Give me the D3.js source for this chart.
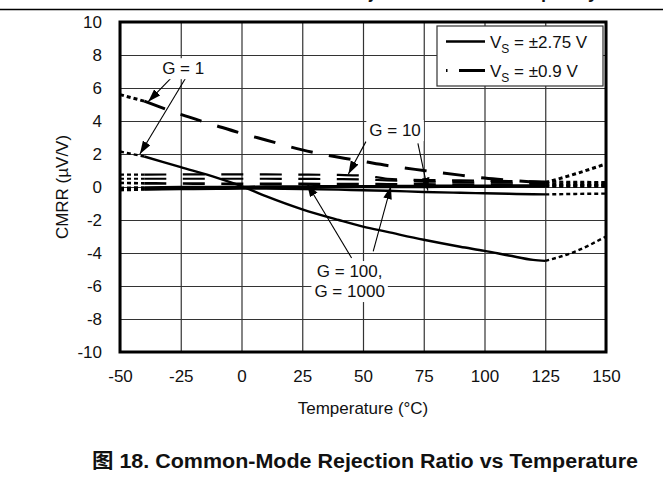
<!DOCTYPE html>
<html lang="en">
<head>
<meta charset="utf-8">
<script src="https://d3js.org/d3.v7.min.js"></script>
<style>
    body { margin: 0; background: #fff; }
    text { font-family: "Liberation Sans", Arial, sans-serif; fill: #111; }
    .grid line { stroke: #333; stroke-width: 1.2; }
    .grid path { display: none; }
    .ticks path { display: none; }
    .ticks line { display: none; }
</style>
</head>
<body>
<svg width="663" height="493"></svg>
<script>

// measured temperatures (°C) for the main curves
var temps = [-40, -25, -10, 0, 10, 25, 40, 50, 60, 75, 90, 100, 110, 120, 125];

// VS = ±2.75 V (solid)
var g1Wide    = [1.85, 1.2, 0.55, 0.05, -0.55, -1.35, -2.0, -2.4, -2.72, -3.2, -3.62, -3.87, -4.15, -4.42, -4.48];
var g10Wide   = [-0.15, -0.13, -0.11, -0.1, -0.1, -0.12, -0.16, -0.2, -0.23, -0.3, -0.35, -0.38, -0.41, -0.44, -0.45];
var g100Wide  = [-0.12, -0.1, -0.07, -0.05, -0.03, -0.02, -0.01, 0, 0, 0, 0.01, 0.01, 0.02, 0.02, 0.02];
var g1000Wide = [-0.02, 0, 0.01, 0.02, 0.03, 0.04, 0.05, 0.05, 0.06, 0.07, 0.08, 0.08, 0.09, 0.1, 0.1];

// VS = ±0.9 V (dashed)
var g1Narrow    = [5.2, 4.4, 3.7, 3.25, 2.85, 2.25, 1.8, 1.55, 1.3, 1.0, 0.72, 0.54, 0.41, 0.3, 0.26];
var g10Narrow   = [0.75, 0.76, 0.76, 0.76, 0.76, 0.75, 0.73, 0.7, 0.5, 0.42, 0.4, 0.38, 0.36, 0.34, 0.33];
var g100Narrow  = [0.5, 0.5, 0.5, 0.5, 0.5, 0.49, 0.48, 0.46, 0.4, 0.33, 0.3, 0.28, 0.26, 0.24, 0.23];
var g1000Narrow = [0.22, 0.21, 0.2, 0.2, 0.19, 0.19, 0.18, 0.18, 0.17, 0.16, 0.15, 0.15, 0.14, 0.13, 0.13];

// extrapolated ends, drawn short-dashed
var leftTemps  = [-50, -40];
var rightTemps = [125, 137.5, 150];
var g1WideLeft = [2.15, 1.85],      g1WideRight = [-4.48, -3.9, -3.0];
var g10WideLeft = [-0.2, -0.15],    g10WideRight = [-0.45, -0.42, -0.4];
var g100WideLeft = [-0.12, -0.12],  g100WideRight = [0.02, 0.02, 0.02];
var g1000WideLeft = [-0.05, -0.02], g1000WideRight = [0.1, 0.1, 0.1];
var g1NarrowLeft = [5.6, 5.2],      g1NarrowRight = [0.26, 0.8, 1.4];
var g10NarrowLeft = [0.75, 0.75],   g10NarrowRight = [0.33, 0.31, 0.3];
var g100NarrowLeft = [0.5, 0.5],    g100NarrowRight = [0.23, 0.21, 0.2];
var g1000NarrowLeft = [0.25, 0.22], g1000NarrowRight = [0.13, 0.12, 0.12];

var xTicks = [-50, -25, 0, 25, 50, 75, 100, 125, 150];
var yTicks = [-10, -8, -6, -4, -2, 0, 2, 4, 6, 8, 10];

var legendLabels = ["±2.75 V", "±0.9 V"];

var series = [
    {vs: 0, w: 2.4, main: g1Wide, left: g1WideLeft, right: g1WideRight},
    {vs: 0, w: 2.4, main: g10Wide, left: g10WideLeft, right: g10WideRight},
    {vs: 0, w: 2.4, main: g100Wide, left: g100WideLeft, right: g100WideRight},
    {vs: 0, w: 2.4, main: g1000Wide, left: g1000WideLeft, right: g1000WideRight},
    {vs: 1, w: 2.6, main: g1000Narrow, left: g1000NarrowLeft, right: g1000NarrowRight},
    {vs: 1, w: 2.2, main: g100Narrow, left: g100NarrowLeft, right: g100NarrowRight},
    {vs: 1, w: 2.2, main: g10Narrow, left: g10NarrowLeft, right: g10NarrowRight},
    {vs: 1, w: 3, main: g1Narrow, left: g1NarrowLeft, right: g1NarrowRight}
];

// annotation labels and arrows, in data units
var notes = [
    {lines: ["G = 1"], at: [-24, 7.2],
     arrows: [[[-28.3, 6.7], [-38.4, 5.17]], [[-22.6, 6.7], [-41.8, 2.0]]]},
    {lines: ["G = 10"], at: [63.2, 3.45],
     arrows: [[[51.2, 2.75], [44, 0.79]], [[72.6, 2.65], [76.7, -0.22]]]},
    {lines: ["G = 100,", "G = 1000"], at: [44.5, -5.7],
     arrows: [[[45.3, -4.3], [27, 0.2]], [[54.2, -3.9], [61.5, 0.05]]]}
];

var svg = d3.select("svg"),
    margin = {top: 22, right: 57, bottom: 141, left: 120},
    width = 663 - margin.left - margin.right,
    height = 493 - margin.top - margin.bottom;

var x = d3.scaleLinear().domain([-50, 150]).range([margin.left, margin.left + width]);
var y = d3.scaleLinear().domain([-10, 10]).range([margin.top + height, margin.top]);

// cut-off title of the previous figure and page rule
svg.append("text")
    .attr("x", 598).attr("y", -2.5)
    .attr("text-anchor", "end")
    .style("font-weight", "bold").style("font-size", "18px")
    .text("Common-Mode Rejection Ratio vs Frequency");
svg.append("line")
    .attr("x1", 0).attr("x2", 663).attr("y1", 9.5).attr("y2", 9.5)
    .attr("stroke", "#000").attr("stroke-width", 1.5);

// grid
svg.append("g").attr("class", "grid")
    .attr("transform", "translate(0," + (margin.top + height) + ")")
    .call(d3.axisBottom(x).tickValues(xTicks).tickSize(-height).tickFormat(""));
svg.append("g").attr("class", "grid")
    .attr("transform", "translate(" + margin.left + ",0)")
    .call(d3.axisLeft(y).tickValues(yTicks).tickSize(-width).tickFormat(""));

// tick labels (plain hyphen minus, as in the original)
var plain = function(d) { return String(d); };
var xa = svg.append("g").attr("class", "ticks")
    .attr("transform", "translate(0," + (margin.top + height + 15) + ")")
    .call(d3.axisBottom(x).tickValues(xTicks).tickSize(0).tickFormat(plain));
xa.selectAll("text").style("font-size", "17px").attr("fill", "#111");
var ya = svg.append("g").attr("class", "ticks")
    .attr("transform", "translate(" + (margin.left - 15) + ",0)")
    .call(d3.axisLeft(y).tickValues(yTicks).tickSize(0).tickFormat(plain));
ya.selectAll("text").style("font-size", "17px").attr("fill", "#111");

// annotation text with white boxes behind
var noteG = svg.append("g");
notes.forEach(function(n) {
    var g = noteG.append("g");
    var t = g.append("text")
        .attr("text-anchor", "middle")
        .style("font-size", "17px");
    var lh = 20;
    var y0 = y(n.at[1]) - (n.lines.length - 1) * lh / 2;
    n.lines.forEach(function(s, i) {
        t.append("tspan").attr("x", x(n.at[0])).attr("y", y0 + i * lh + 6).text(s);
    });
    var b = t.node().getBBox();
    g.insert("rect", "text")
        .attr("x", b.x - 3).attr("y", b.y - 1)
        .attr("width", b.width + 6).attr("height", b.height + 2)
        .attr("fill", "#fff");
    n.textG = g;
});

// curves
var line = d3.line()
    .x(function(d) { return x(d[0]); })
    .y(function(d) { return y(d[1]); })
    .curve(d3.curveMonotoneX);

var curveG = svg.append("g").attr("fill", "none").attr("stroke", "#000");
series.forEach(function(s) {
    curveG.append("path")
        .attr("d", line(d3.zip(temps, s.main)))
        .attr("stroke-width", s.w)
        .attr("stroke-dasharray", s.vs === 0 ? null : "22,16.5");
    [[leftTemps, s.left], [rightTemps, s.right]].forEach(function(e) {
        curveG.append("path")
            .attr("d", line(d3.zip(e[0], e[1])))
            .attr("stroke-width", s.w)
            .attr("stroke-dasharray", "4,3");
    });
});

// arrows
svg.append("defs").append("marker")
    .attr("id", "head")
    .attr("viewBox", "0 0 12 8")
    .attr("refX", 12).attr("refY", 4)
    .attr("markerWidth", 13).attr("markerHeight", 9)
    .attr("markerUnits", "userSpaceOnUse")
    .attr("orient", "auto")
  .append("path")
    .attr("d", "M0,0L12,4L0,8Z")
    .attr("fill", "#000");

notes.forEach(function(n) {
    n.arrows.forEach(function(a) {
        svg.append("line")
            .attr("x1", x(a[0][0])).attr("y1", y(a[0][1]))
            .attr("x2", x(a[1][0])).attr("y2", y(a[1][1]))
            .attr("stroke", "#000").attr("stroke-width", 1.1)
            .attr("marker-end", "url(#head)");
    });
    svg.node().appendChild(n.textG.node());
});

// frame
svg.append("rect")
    .attr("x", margin.left).attr("y", margin.top)
    .attr("width", width).attr("height", height)
    .attr("fill", "none").attr("stroke", "#000").attr("stroke-width", 3);

// legend
var lg = svg.append("g");
lg.append("rect")
    .attr("x", 437).attr("y", 26).attr("width", 166).attr("height", 60)
    .attr("fill", "#fff").attr("stroke", "#333").attr("stroke-width", 1.2);
legendLabels.forEach(function(lab, i) {
    var ly = 41.5 + i * 29;
    lg.append("line")
        .attr("x1", 446).attr("x2", 485).attr("y1", ly).attr("y2", ly)
        .attr("stroke", "#000").attr("stroke-width", i === 0 ? 2.4 : 3)
        .attr("stroke-dasharray", i === 0 ? null : "1.5,11.5,26");
    var t = lg.append("text").attr("x", 490).attr("y", ly + 6).style("font-size", "17px");
    t.append("tspan").text("V");
    t.append("tspan").attr("dy", 5).style("font-size", "12px").text("S");
    t.append("tspan").attr("dy", -5).text(" = " + lab);
});

// axis titles
svg.append("text")
    .attr("x", x(50)).attr("y", 414)
    .attr("text-anchor", "middle").style("font-size", "17px")
    .text("Temperature (°C)");
svg.append("text")
    .attr("transform", "translate(68," + y(0) + ") rotate(-90)")
    .attr("text-anchor", "middle").style("font-size", "17px")
    .text("CMRR (µV/V)");

// caption
svg.append("text")
    .attr("x", 365).attr("y", 468)
    .attr("text-anchor", "middle")
    .attr("textLength", 546).attr("lengthAdjust", "spacingAndGlyphs")
    .style("font-weight", "bold").style("font-size", "20px")
    .style("font-family", "'Liberation Sans', 'Noto Sans CJK SC', sans-serif")
    .text("图 18. Common-Mode Rejection Ratio vs Temperature");

</script>
</body>
</html>
